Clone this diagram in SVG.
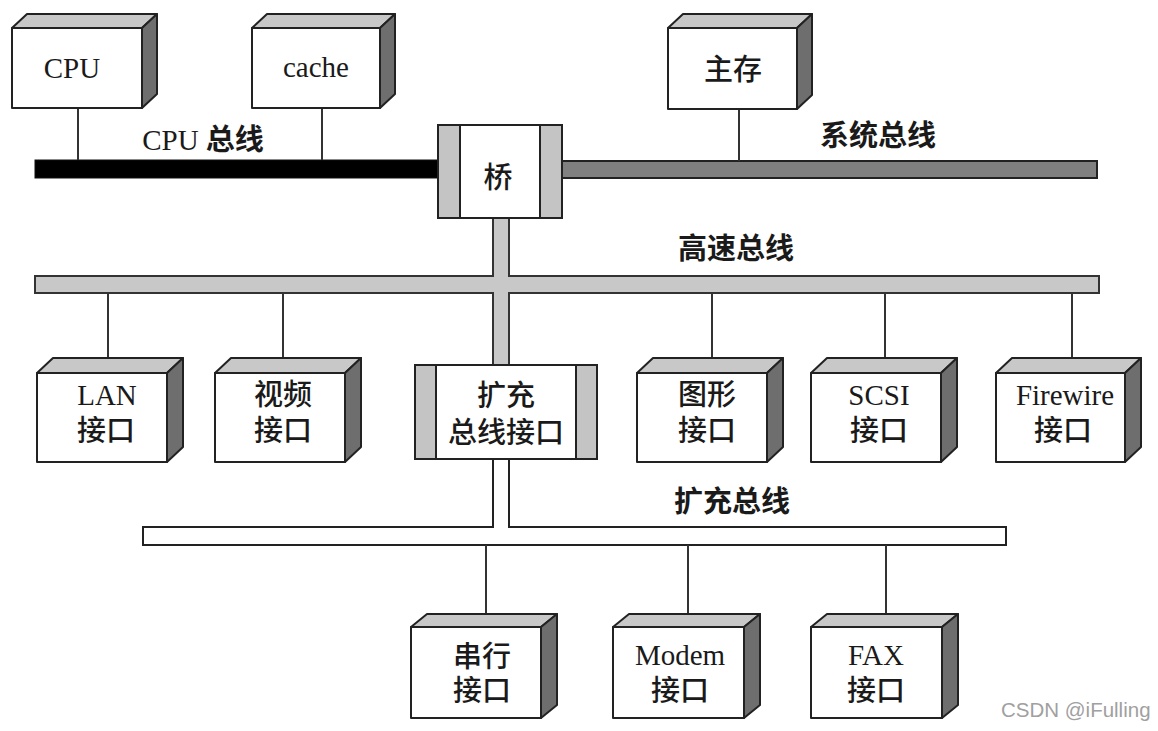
<svg xmlns="http://www.w3.org/2000/svg" width="1158" height="731" viewBox="0 0 1158 731">
<style>
  .front{fill:#fff;stroke:#222;stroke-width:2;stroke-linejoin:round}
  .top{fill:#c8c8c8;stroke:#222;stroke-width:2;stroke-linejoin:round}
  .side{fill:#6e6e6e;stroke:#222;stroke-width:2;stroke-linejoin:round}
  .band{fill:#c4c4c4;stroke:#222;stroke-width:2}
  .wire{stroke:#333;stroke-width:2;fill:none}
  .lbl{font-family:"Liberation Serif","Noto Sans CJK SC",serif;font-size:29px;font-weight:500;fill:#1a1a1a;text-anchor:middle}
  .bus{font-family:"Liberation Serif","Noto Sans CJK SC",serif;font-size:29px;font-weight:bold;fill:#1a1a1a;text-anchor:middle}
  .reg{font-weight:normal}
  .wm{font-family:"Liberation Sans",Arial,sans-serif;font-size:20.5px;fill:#a0a0a0}
</style>
<rect width="1158" height="731" fill="#fff"/>

<g id="connectors">
  <!-- CPU bus -->
  <rect x="35" y="160" width="404" height="18" fill="#000" stroke="#111" stroke-width="1"/>
  <!-- system bus -->
  <rect x="561" y="161" width="536" height="17" fill="#808080" stroke="#222" stroke-width="2"/>
  <!-- high-speed bus with stem -->
  <rect x="35" y="276" width="1064" height="17" fill="#c8c8c8"/>
  <rect x="493" y="217" width="16" height="149" fill="#c8c8c8"/>
  <path class="wire" d="M493,218 V276 H35 V293 H493 V366" stroke="#222"/>
  <path class="wire" d="M509,218 V276 H1099 V293 H509 V366" stroke="#222"/>
  <!-- expansion bus with stem -->
  <path d="M493,459 V527 H143 V545 H1006 V527 H509 V459" fill="#fff" stroke="#222" stroke-width="2"/>
  <!-- drop lines -->
  <line class="wire" x1="78" y1="108" x2="78" y2="160"/>
  <line class="wire" x1="322" y1="108" x2="322" y2="160"/>
  <line class="wire" x1="739" y1="109" x2="739" y2="161"/>
  <line class="wire" x1="108" y1="293" x2="108" y2="358"/>
  <line class="wire" x1="283" y1="293" x2="283" y2="358"/>
  <line class="wire" x1="712" y1="293" x2="712" y2="358"/>
  <line class="wire" x1="885" y1="293" x2="885" y2="358"/>
  <line class="wire" x1="1072" y1="293" x2="1072" y2="358"/>
  <line class="wire" x1="486" y1="545" x2="486" y2="614"/>
  <line class="wire" x1="688" y1="545" x2="688" y2="614"/>
  <line class="wire" x1="886" y1="545" x2="886" y2="614"/>
  <text class="bus" x="203" y="150"><tspan class="reg">CPU</tspan> 总线</text>
  <text class="bus" x="878" y="146">系统总线</text>
  <text class="bus" x="736" y="259">高速总线</text>
  <text class="bus" x="732" y="512">扩充总线</text>
</g>

<g id="cpu">
  <rect class="front" x="12" y="28" width="130" height="80"/>
  <polygon class="top" points="12,28 27,14 157,14 142,28"/>
  <polygon class="side" points="142,28 157,14 157,94 142,108"/>
  <text class="lbl" x="72" y="78">CPU</text>
</g>
<g id="cache">
  <rect class="front" x="252" y="28" width="128" height="80"/>
  <polygon class="top" points="252,28 267,14 395,14 380,28"/>
  <polygon class="side" points="380,28 395,14 395,94 380,108"/>
  <text class="lbl" x="316" y="77">cache</text>
</g>
<g id="mainmem">
  <rect class="front" x="668" y="28" width="129" height="81"/>
  <polygon class="top" points="668,28 683,14 812,14 797,28"/>
  <polygon class="side" points="797,28 812,14 812,95 797,109"/>
  <text class="lbl" x="733" y="80">主存</text>
</g>
<g id="bridge">
  <rect x="438" y="125" width="124" height="93" rx="2" fill="#fff" stroke="#222" stroke-width="2"/>
  <rect class="band" x="438" y="125" width="22" height="93"/>
  <rect class="band" x="540" y="125" width="22" height="93"/>
  <text class="lbl" x="498" y="188">桥</text>
</g>

<g id="lan">
  <rect class="front" x="37" y="373" width="130" height="89"/>
  <polygon class="top" points="37,373 53,358 183,358 167,373"/>
  <polygon class="side" points="167,373 183,358 183,447 167,462"/>
  <text class="lbl" x="107" y="405">LAN</text>
  <text class="lbl" x="106" y="441">接口</text>
</g>
<g id="video">
  <rect class="front" x="215" y="373" width="130" height="89"/>
  <polygon class="top" points="215,373 231,358 361,358 345,373"/>
  <polygon class="side" points="345,373 361,358 361,447 345,462"/>
  <text class="lbl" x="283" y="405">视频</text>
  <text class="lbl" x="283" y="441">接口</text>
</g>
<g id="expif">
  <rect x="415" y="365" width="182" height="94" fill="#fff" stroke="#222" stroke-width="2"/>
  <rect class="band" x="415" y="365" width="21" height="94"/>
  <rect class="band" x="576" y="365" width="21" height="94"/>
  <text class="lbl" x="506" y="406">扩充</text>
  <text class="lbl" x="506" y="443">总线接口</text>
</g>
<g id="graphics">
  <rect class="front" x="637" y="373" width="130" height="89"/>
  <polygon class="top" points="637,373 653,358 783,358 767,373"/>
  <polygon class="side" points="767,373 783,358 783,447 767,462"/>
  <text class="lbl" x="707" y="405">图形</text>
  <text class="lbl" x="707" y="441">接口</text>
</g>
<g id="scsi">
  <rect class="front" x="811" y="373" width="130" height="89"/>
  <polygon class="top" points="811,373 827,358 957,358 941,373"/>
  <polygon class="side" points="941,373 957,358 957,447 941,462"/>
  <text class="lbl" x="879" y="405">SCSI</text>
  <text class="lbl" x="879" y="441">接口</text>
</g>
<g id="firewire">
  <rect class="front" x="996" y="373" width="129" height="89"/>
  <polygon class="top" points="996,373 1012,358 1141,358 1125,373"/>
  <polygon class="side" points="1125,373 1141,358 1141,447 1125,462"/>
  <text class="lbl" x="1065" y="405">Firewire</text>
  <text class="lbl" x="1063" y="441">接口</text>
</g>

<g id="serial">
  <rect class="front" x="411" y="627" width="130" height="91"/>
  <polygon class="top" points="411,627 427,614 557,614 541,627"/>
  <polygon class="side" points="541,627 557,614 557,705 541,718"/>
  <text class="lbl" x="482" y="667">串行</text>
  <text class="lbl" x="482" y="701">接口</text>
</g>
<g id="modem">
  <rect class="front" x="613" y="627" width="131" height="91"/>
  <polygon class="top" points="613,627 629,614 760,614 744,627"/>
  <polygon class="side" points="744,627 760,614 760,705 744,718"/>
  <text class="lbl" x="680" y="665">Modem</text>
  <text class="lbl" x="680" y="701">接口</text>
</g>
<g id="fax">
  <rect class="front" x="811" y="627" width="131" height="91"/>
  <polygon class="top" points="811,627 827,614 958,614 942,627"/>
  <polygon class="side" points="942,627 958,614 958,705 942,718"/>
  <text class="lbl" x="876" y="665">FAX</text>
  <text class="lbl" x="876" y="701">接口</text>
</g>

<text class="wm" x="1001" y="717">CSDN @iFulling</text>
</svg>
